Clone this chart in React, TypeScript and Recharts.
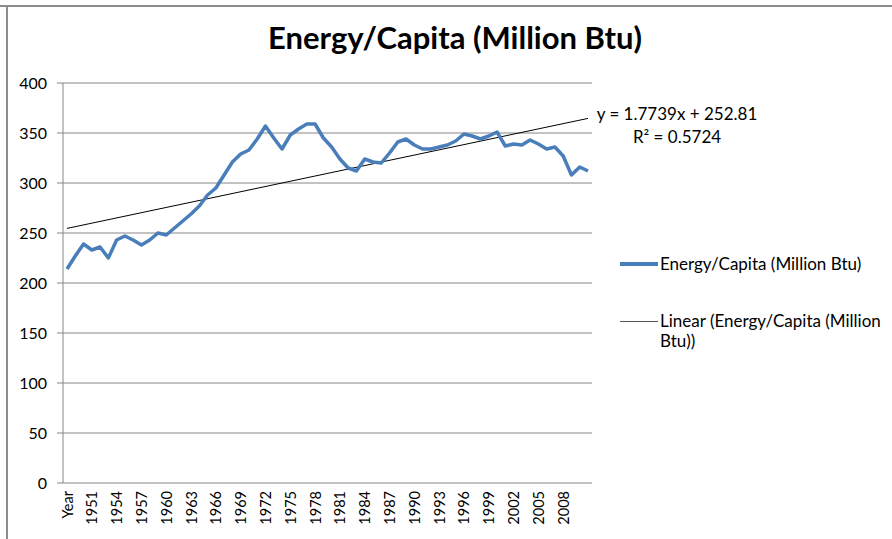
import { LineChart, Line, XAxis, YAxis, CartesianGrid, ReferenceLine } from 'recharts';

// x categories as they appear in the sheet (header cell "Year" included)
const categories = [
  'Year', '1949', '1950', '1951', '1952', '1953', '1954', '1955', '1956', '1957',
  '1958', '1959', '1960', '1961', '1962', '1963', '1964', '1965', '1966', '1967',
  '1968', '1969', '1970', '1971', '1972', '1973', '1974', '1975', '1976', '1977',
  '1978', '1979', '1980', '1981', '1982', '1983', '1984', '1985', '1986', '1987',
  '1988', '1989', '1990', '1991', '1992', '1993', '1994', '1995', '1996', '1997',
  '1998', '1999', '2000', '2001', '2002', '2003', '2004', '2005', '2006', '2007',
  '2008', '2009', '2010', '2011',
];

const energyPerCapita = [
  214, 227, 239, 233, 236, 225, 243, 247, 243, 238,
  243, 250, 248, 255, 262, 269, 277, 288, 295, 308,
  321, 329, 333, 344, 357, 345, 334, 348, 354, 359,
  359, 345, 336, 324, 315, 312, 324, 321, 320, 330,
  341, 344, 338, 334, 334, 336, 338, 342, 349, 347,
  344, 347, 351, 337, 339, 338, 343, 339, 334, 336,
  327, 308, 316, 312,
];

const labeledCategories = [
  'Year', '1951', '1954', '1957', '1960', '1963', '1966', '1969', '1972', '1975',
  '1978', '1981', '1984', '1987', '1990', '1993', '1996', '1999', '2002', '2005', '2008',
];

const yTicks = [0, 50, 100, 150, 200, 250, 300, 350, 400];

// linear trendline end values, y = 1.7739x + 252.81
const trendStart = 254.6;
const trendEnd = 364.6;

const data = categories.map((name, i) => ({ name, value: energyPerCapita[i] }));
const boundaryTicks = [...categories.keys(), categories.length];

const FONT = 'Lato, "Open Sans", sans-serif';
const AXIS = '#868686';
const BLUE = '#4a7ebb';

function YearTick({ x, y, payload }: { x?: number; y?: number; payload?: { value: string } }) {
  if (!payload || !labeledCategories.includes(payload.value)) return null;
  return (
    <text
      x={x}
      y={y}
      transform={`rotate(-90, ${x}, ${y})`}
      textAnchor="end"
      dominantBaseline="central"
      fontSize={14.5}
      fontFamily={FONT}
      fill="#000"
    >
      {payload.value}
    </text>
  );
}

export default function App() {
  return (
    <div style={{ position: 'absolute', left: 0, top: 0, width: 892, height: 539, background: '#fff', fontFamily: FONT, overflow: 'hidden' }}>
      <div style={{ position: 'absolute', left: 0, top: 5, width: 892, height: 2, background: '#8c8c8c' }} />
      <div style={{ position: 'absolute', left: 6, top: 5, width: 2, height: 534, background: '#8c8c8c' }} />

      <div style={{ position: 'absolute', left: 0, top: 18, width: 910, textAlign: 'center', fontSize: 31, fontWeight: 700, color: '#000' }}>
        Energy/Capita (Million Btu)
      </div>

      <LineChart width={892} height={539} data={data} margin={{ top: 83, right: 300, left: 0, bottom: 6 }}>
        <CartesianGrid xAxisId="cat" vertical={false} stroke={AXIS} strokeWidth={1} />
        <XAxis
          xAxisId="marks"
          type="number"
          domain={[0, categories.length]}
          ticks={boundaryTicks}
          tick={false}
          tickSize={5}
          height={0}
          allowDataOverflow
          axisLine={{ stroke: AXIS }}
          tickLine={{ stroke: AXIS }}
        />
        <XAxis
          xAxisId="cat"
          dataKey="name"
          interval={0}
          height={50}
          padding={{ left: 4, right: 4 }}
          axisLine={false}
          tickLine={false}
          tick={<YearTick />}
        />
        <YAxis
          domain={[0, 400]}
          ticks={yTicks}
          width={63}
          tickSize={6}
          tickMargin={10}
          axisLine={{ stroke: AXIS }}
          tickLine={{ stroke: AXIS }}
          tick={{ fill: '#000', fontSize: 16, fontFamily: FONT }}
        />
        <ReferenceLine
          xAxisId="cat"
          segment={[{ x: categories[0], y: trendStart }, { x: categories[categories.length - 1], y: trendEnd }]}
          stroke="#000"
          strokeWidth={1}
          ifOverflow="visible"
        />
        <Line
          xAxisId="cat"
          type="linear"
          dataKey="value"
          stroke={BLUE}
          strokeWidth={3.5}
          strokeLinejoin="round"
          dot={false}
          isAnimationActive={false}
        />
      </LineChart>

      <div style={{ position: 'absolute', left: 596, top: 102, width: 162, textAlign: 'center', fontSize: 17, lineHeight: '23px', color: '#000' }}>
        <div>y = 1.7739x + 252.81</div>
        <div>R² = 0.5724</div>
      </div>

      <div style={{ position: 'absolute', left: 620, top: 252, fontSize: 17, lineHeight: '20px', color: '#000' }}>
        <div style={{ display: 'flex', alignItems: 'center', height: 24 }}>
          <span style={{ display: 'inline-block', width: 38, height: 3.5, background: BLUE, marginRight: 2 }} />
          <span>Energy/Capita (Million Btu)</span>
        </div>
        <div style={{ display: 'flex', alignItems: 'flex-start', marginTop: 35 }}>
          <span style={{ display: 'inline-block', width: 38, height: 1, background: '#555', marginRight: 2, marginTop: 10 }} />
          <span style={{ width: 235 }}>Linear (Energy/Capita (Million Btu))</span>
        </div>
      </div>
    </div>
  );
}
